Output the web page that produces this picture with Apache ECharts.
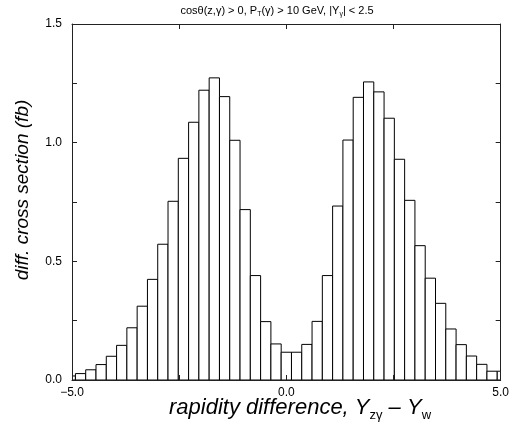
<!DOCTYPE html>
<html>
<head>
<meta charset="utf-8">
<script src="https://cdn.jsdelivr.net/npm/echarts@6/dist/echarts.min.js"></script>
<style>html,body{margin:0;padding:0;background:#fff}#c{width:512px;height:433px}</style>
</head>
<body>
<div id="c"></div>
<script>
var binWidth = 0.24;
var binCenters = [-5.04,-4.80,-4.56,-4.32,-4.08,-3.84,-3.60,-3.36,-3.12,-2.88,-2.64,-2.40,-2.16,-1.92,-1.68,-1.44,-1.20,-0.96,-0.72,-0.48,-0.24,
  0.00,0.24,0.48,0.72,0.96,1.20,1.44,1.68,1.92,2.16,2.40,2.64,2.88,3.12,3.36,3.60,3.84,4.08,4.32,4.56,4.80,5.04];
var crossSection = [0.017,0.027,0.043,0.065,0.100,0.146,0.220,0.311,0.424,0.572,0.753,0.934,1.086,1.221,1.273,1.194,1.010,0.718,0.440,0.246,0.152,
  0.117,0.117,0.150,0.247,0.440,0.733,1.011,1.191,1.256,1.214,1.103,0.930,0.757,0.566,0.429,0.323,0.215,0.149,0.101,0.066,0.037,0.037];
var xTickLabels = {'-5': '\u22125.0', '0': '0.0', '5': '5.0'};
var yTickLabels = {'0': '0.0', '0.5': '0.5', '1': '1.0', '1.5': '1.5'};

var FONT = 'Liberation Sans, Arial, sans-serif';
var chart = echarts.init(document.getElementById('c'));
var data = binCenters.map(function (c, i) { return [c, crossSection[i]]; });

var axisLine = {show: true, onZero: false, lineStyle: {color: '#222', width: 1}};
var tick = {show: true, inside: true, length: 5, lineStyle: {color: '#222', width: 1}};

chart.setOption({
  animation: false,
  grid: {left: 72, right: 10, top: 24, bottom: 53},
  xAxis: [{
    type: 'value', min: -5, max: 5, interval: 2.5, position: 'bottom', z: 5,
    axisLine: axisLine, axisTick: tick, splitLine: {show: false},
    axisLabel: {margin: 7, color: '#000', fontSize: 12, fontFamily: FONT,
      formatter: function (v) { return xTickLabels[String(v)] || ''; }}
  }, {
    type: 'value', min: -5, max: 5, interval: 2.5, position: 'top', z: 5,
    axisLine: axisLine, axisTick: tick, splitLine: {show: false},
    axisLabel: {show: false}
  }],
  yAxis: [{
    type: 'value', min: 0, max: 1.5, interval: 0.25, position: 'left', z: 5,
    axisLine: axisLine, axisTick: tick, splitLine: {show: false},
    axisLabel: {margin: 10, color: '#000', fontSize: 12, fontFamily: FONT,
      formatter: function (v) { return yTickLabels[String(v)] || ''; }}
  }, {
    type: 'value', min: 0, max: 1.5, interval: 0.25, position: 'right', z: 5,
    axisLine: axisLine, axisTick: tick, splitLine: {show: false},
    axisLabel: {show: false}
  }],
  series: [{
    type: 'custom',
    xAxisIndex: 0, yAxisIndex: 0,
    clip: true,
    data: data,
    renderItem: function (params, api) {
      var c = api.value(0), h = api.value(1);
      var p1 = api.coord([c - binWidth / 2, h]);
      var p2 = api.coord([c + binWidth / 2, 0]);
      var cs = params.coordSys;
      var rect = echarts.graphic.clipRectByRect(
        {x: p1[0], y: p1[1], width: p2[0] - p1[0], height: p2[1] - p1[1]},
        {x: cs.x, y: cs.y, width: cs.width, height: cs.height});
      return rect && {type: 'rect', shape: rect, style: {fill: '#fff', stroke: '#000', lineWidth: 1}};
    }
  }],
  graphic: [{
    type: 'text', x: 277, y: 11,
    style: {
      text: 'cos\u03b8(z,\u03b3) > 0, P{s|T}(\u03b3) > 10 GeV, |Y{s|\u03b3}| < 2.5',
      font: '11px ' + FONT, fill: '#000', align: 'center', verticalAlign: 'middle',
      rich: {s: {fontSize: 7, fontFamily: FONT, verticalAlign: 'bottom', padding: [6, 0, 0, 0]}}
    }
  }, {
    type: 'text', x: 23, y: 190, rotation: Math.PI / 2,
    style: {
      text: 'diff. cross section (fb)',
      font: 'italic 19px ' + FONT, fill: '#000', align: 'center', verticalAlign: 'middle'
    }
  }, {
    type: 'text', x: 300, y: 408,
    style: {
      text: 'rapidity difference, Y{s|z\u03b3} \u2013 Y{s|w}',
      font: 'italic 22px ' + FONT, fill: '#000', align: 'center', verticalAlign: 'middle',
      rich: {s: {fontSize: 13, fontFamily: FONT, fontStyle: 'normal', padding: [14, 0, 0, 0]}}
    }
  }]
});
</script>
</body>
</html>
